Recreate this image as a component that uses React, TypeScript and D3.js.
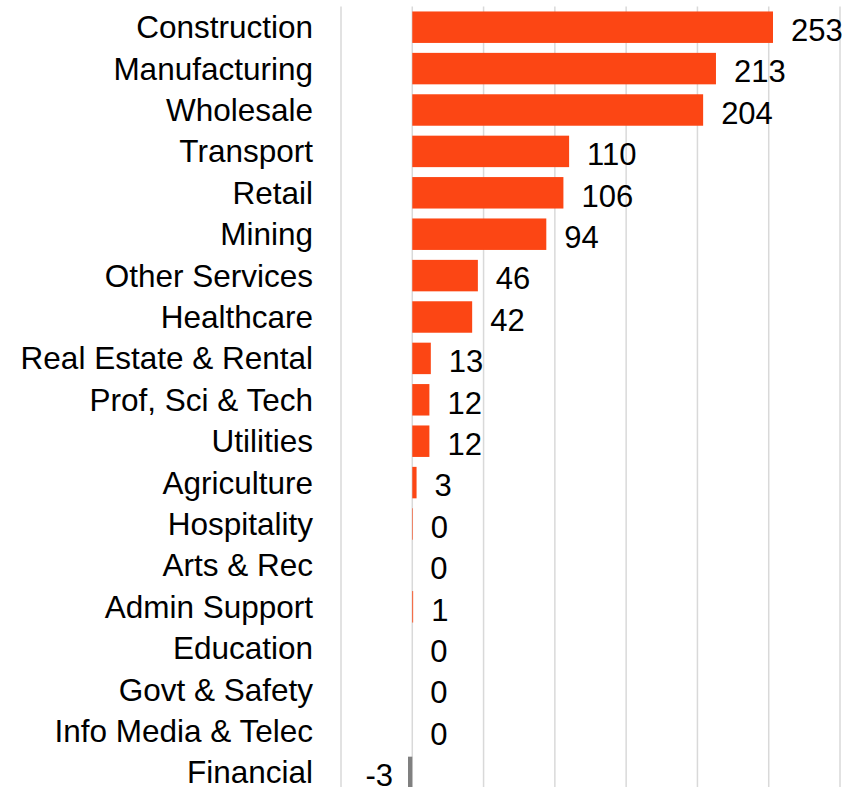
import React, { useEffect, useRef } from 'react';
import * as d3 from 'd3';

const categories = [
  'Construction', 'Manufacturing', 'Wholesale', 'Transport', 'Retail', 'Mining',
  'Other Services', 'Healthcare', 'Real Estate & Rental', 'Prof, Sci & Tech',
  'Utilities', 'Agriculture', 'Hospitality', 'Arts & Rec', 'Admin Support',
  'Education', 'Govt & Safety', 'Info Media & Telec', 'Financial'
];
const values = [253, 213, 204, 110, 106, 94, 46, 42, 13, 12, 12, 3, 0.4, 0, 0.6, 0, 0, 0, -3];
const gridTicks = [-50, 0, 50, 100, 150, 200, 250, 300];

const App = () => {
  const svgRef = useRef<SVGSVGElement>(null);
  const width = 858;
  const height = 787;

  useEffect(() => {
    const svg = d3.select(svgRef.current);
    svg.selectAll('*').remove();

    const font = 'Liberation Sans, Arial, sans-serif';
    const step = 41.4;

    // escalas
    const x = d3.scaleLinear().domain([-50, 300]).range([341, 840]);
    const y = d3.scaleBand<string>()
      .domain(categories)
      .range([6.5, 6.5 + step * 19])
      .paddingInner(0.24)
      .paddingOuter(0.12);

    const [top, bottom] = y.range();

    // lineas de cuadricula
    svg.append('g')
      .selectAll('line')
      .data(gridTicks)
      .enter()
      .append('line')
      .attr('x1', d => x(d))
      .attr('x2', d => x(d))
      .attr('y1', top)
      .attr('y2', bottom)
      .attr('stroke', '#d9d9d9')
      .attr('stroke-width', 1.5);

    const data = categories.map((c, i) => ({ name: c, value: values[i] }));

    // barras
    svg.append('g')
      .selectAll('rect')
      .data(data)
      .enter()
      .append('rect')
      .attr('x', d => x(Math.min(0, d.value)))
      .attr('width', d => Math.abs(x(d.value) - x(0)))
      .attr('y', d => y(d.name)!)
      .attr('height', y.bandwidth())
      .attr('fill', d => (d.value < 0 ? '#808080' : '#fc4614'));

    // etiquetas de categorias
    svg.append('g')
      .selectAll('text')
      .data(data)
      .enter()
      .append('text')
      .attr('x', 313)
      .attr('y', d => y(d.name)! + y.bandwidth() / 2)
      .attr('dy', '0.35em')
      .attr('text-anchor', 'end')
      .attr('font-family', font)
      .attr('font-size', 31.5)
      .attr('fill', '#000')
      .text(d => d.name);

    // etiquetas de valores
    svg.append('g')
      .selectAll('text')
      .data(data)
      .enter()
      .append('text')
      .attr('x', d => (d.value < 0 ? x(d.value) - 15 : x(d.value) + 18))
      .attr('y', d => y(d.name)! + y.bandwidth() / 2 + 3)
      .attr('dy', '0.35em')
      .attr('text-anchor', d => (d.value < 0 ? 'end' : 'start'))
      .attr('font-family', font)
      .attr('font-size', 31)
      .attr('fill', '#000')
      .text(d => `${Math.round(d.value)}`);
  }, []);

  return (
    <svg
      ref={svgRef}
      width={width}
      height={height}
      style={{ position: 'absolute', left: 0, top: 0, background: '#fff' }}
    />
  );
};

export default App;
